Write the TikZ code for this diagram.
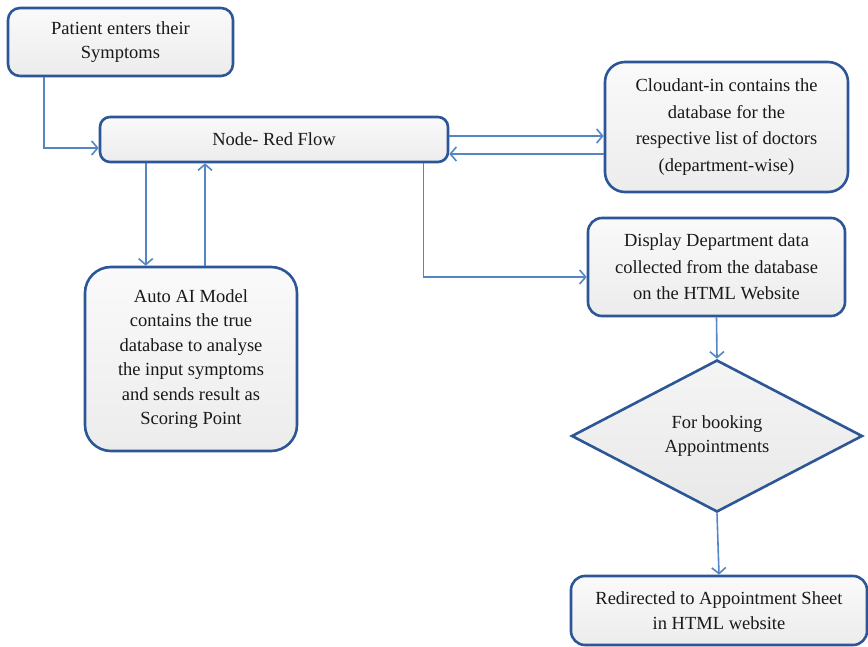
\documentclass[tikz,border=0pt]{standalone}
\usepackage{fontspec}
\setmainfont{Liberation Serif}
\usetikzlibrary{shapes.geometric,arrows.meta,positioning}
\definecolor{BoxBlue}{RGB}{44, 86, 150}
\definecolor{LineBlue}{RGB}{84, 134, 196}
\definecolor{BoxFill}{RGB}{236, 236, 236}
\definecolor{TextGray}{RGB}{25, 25, 25}

\tikzset{
  stepbox/.style={draw=BoxBlue, line width=2.6pt, rounded corners=#1,
    top color=white!96!gray, bottom color=BoxFill, align=center,
    text=TextGray, inner sep=1pt,
    font=\fontsize{18.5}{24.5}\selectfont},
  stepbox/.default=12pt,
  wide lines/.style={font=\fontsize{18.5}{26.5}\selectfont},
  choice/.style={diamond, draw=BoxBlue, line width=2.6pt, aspect=1.9,
    top color=white!92!gray, bottom color=gray!18, align=center,
    text=TextGray, inner sep=0pt, minimum width=291pt, minimum height=152pt,
    font=\fontsize{18.5}{24.5}\selectfont},
  flow/.style={draw=LineBlue, line width=1.6pt,
    -{Straight Barb[length=6pt,width=14pt,line width=1.6pt]}}
}

\begin{document}
\begin{tikzpicture}[x=1pt, y=-1pt]
  \useasboundingbox (0,0) rectangle (868,647);

  % left column
  \node[stepbox, minimum width=225pt, minimum height=68pt] (patient) at (120.5,42)
    {Patient enters their\\Symptoms};
  \node[stepbox=10pt, minimum width=348pt, minimum height=45pt] (nodered) at (274,139.5)
    {Node- Red Flow};
  \node[stepbox=26pt, minimum width=212pt, minimum height=184pt] (autoai) at (191,359)
    {Auto AI Model\\contains the true\\database to analyse\\the input symptoms\\and sends result as\\Scoring Point};

  % right column
  \node[stepbox=20pt, wide lines, minimum width=243pt, minimum height=130pt] (cloudant) at (726.5,127)
    {Cloudant-in contains the\\database for the\\respective list of doctors\\(department-wise)};
  \node[stepbox=14pt, wide lines, minimum width=257pt, minimum height=98pt] (display) at (716.5,267)
    {Display Department data\\collected from the database\\on the HTML Website};
  \node[choice] (booking) at (717,436) {For booking\\Appointments};
  \node[stepbox=14pt, minimum width=296pt, minimum height=69pt] (redirect) at (719,610.5)
    {Redirected to Appointment Sheet\\in HTML website};

  % connectors
  \draw[flow] ([xshift=37pt]patient.south west) |- ([yshift=-8.5pt]nodered.west);
  \draw[flow] ([xshift=47pt]nodered.south west) -- ([xshift=47pt]nodered.south west |- autoai.north);
  \draw[flow] ([xshift=14pt]autoai.north) -- ([xshift=14pt]autoai.north |- nodered.south);
  \draw[flow] ([yshift=3.5pt]nodered.east) -- ([yshift=3.5pt]nodered.east -| cloudant.west);
  \draw[flow] ([yshift=-27pt]cloudant.west) -- ([yshift=-27pt]cloudant.west -| nodered.east);
  \draw[flow] ([xshift=-26pt]nodered.south east) |- ([yshift=-10pt]display.west);
  \draw[flow] (display.south) -- (booking.north);
  \draw[flow] (booking.south) -- (redirect.north);
\end{tikzpicture}
\end{document}
